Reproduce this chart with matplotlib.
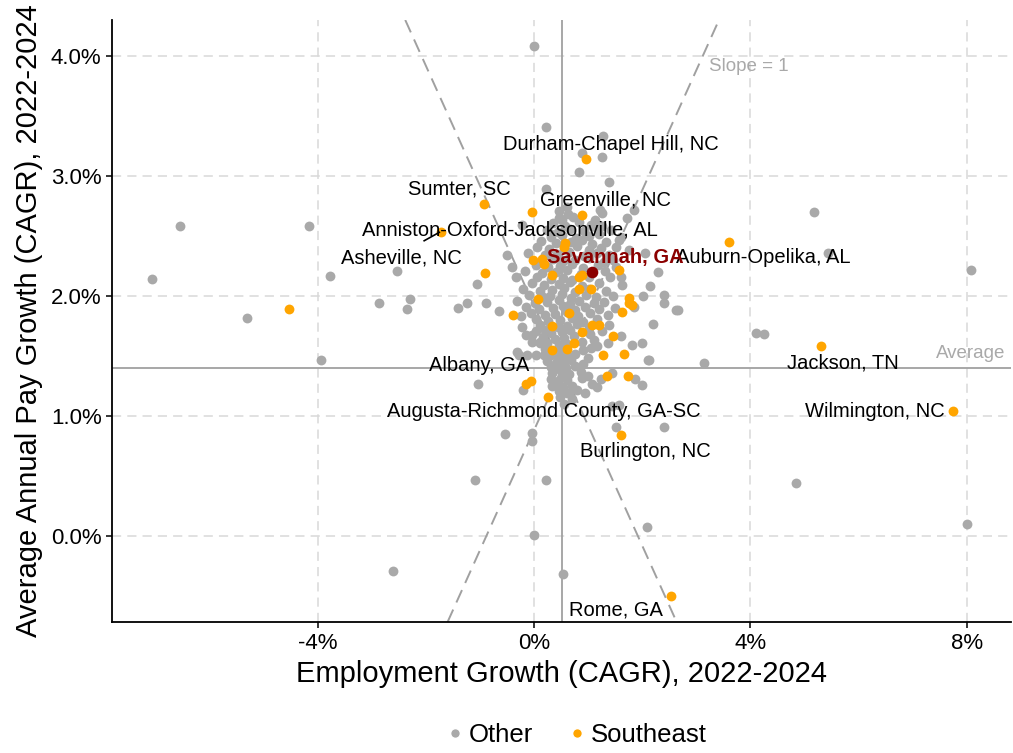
import matplotlib.pyplot as plt
from matplotlib.lines import Line2D

plt.rcParams["font.family"] = ["Liberation Sans", "DejaVu Sans"]

# employment growth (x, %) and pay growth (y, %) -- non-Southeast metros
other_x = [
    -6.54, -4.16, -7.07, -3.77, -2.53, -2.86, -5.31, -3.94, -2.60, -2.30, -2.35, -1.40, -1.24, -1.045,
    -1.03, 0.00, 0.23, 1.27, 0.88, 1.25, 0.835, 1.38, 0.23, 1.84, 0.46, -0.23, 1.57, 1.75, -0.49, -0.40,
    2.15, 2.01, 2.40, 2.62, 2.40, -0.645, -0.89, 5.17, 5.43, 8.08, 2.67, 4.10, 4.245, 3.15, 4.835, 8.01,
    -0.20, 0.33, -0.535, -0.04, -0.04, 1.52, 2.41, 1.44, 1.57, -1.09, 0.23, 0.00, 2.08, 0.53,
    1.87, 2.00, 2.12, 1.44, 1.23, 1.075, 1.17, 0.95, 0.80, 0.645, 2.20, -0.22, -0.31, -0.12, 0.03,
    0.12, 0.20, -0.03, -0.245, -0.15, -0.03, 0.12, 0.18, -0.28, 1.41, 1.60, 1.62, 2.30, 1.84, 1.60,
    1.81, 2.00, 2.11, 0.61, 0.52, 0.31, 1.72, 1.60, 2.06, 1.26, 1.26, 1.075, -0.34,
    0.46, 0.63, 1.22,
    0.50, 0.72, 1.12,
    0.36, 0.57, 0.83, 1.05,
    0.24, 0.44, 0.66, 0.93, 1.17, 1.42,
    0.31, 0.52, 0.77, 1.02, 1.21,
    0.13, 0.41, 0.68, 0.88, 1.08, 1.33,
    0.06, 0.28, 0.56, 0.79, 1.01, 1.24, 1.52,
    -0.11, 0.21, 0.43, 0.64, 0.92, 1.16, 1.38,
    0.36, 0.54, 0.76, 1.02, 1.29, 1.46,
    0.04, 0.26, 0.49, 0.71, 0.91, 1.19, 1.51,
    -0.16, 0.14, 0.41, 0.61, 0.86, 1.31,
    0.06, 0.31, 0.54, 0.71, 1.01,
    -0.04, 0.19, 0.46, 0.66, 0.89, 1.21,
    -0.21, 0.11, 0.34, 0.56, 0.76, 1.01, 1.34,
    -0.09, 0.16, 0.29, 0.51, 0.69, 0.96, 1.14, 1.46,
    -0.31, 0.01, 0.24, 0.46, 0.66, 0.84, 1.11, 1.29,
    -0.14, 0.09, 0.36, 0.54, 0.76, 0.94, 1.21, 1.49,
    -0.06, 0.21, 0.39, 0.61, 0.81, 1.04, 1.36,
    0.04, 0.26, 0.49, 0.71, 0.91, 1.16,
    0.11, 0.44, 0.61, 0.79, 1.01, 1.39,
    0.04, 0.31, 0.51, 0.66, 1.04, 1.26,
    0.16, 0.39, 0.56, 0.74, 1.11,
    0.24, 0.46, 0.61, 0.89, 1.16, 1.36,
    0.21, 0.49, 0.91, 1.06,
    0.31, 0.44, 0.61, 0.76, 0.99,
    0.24, 0.41, 0.56, 0.69, 0.91,
    0.31, 0.46, 0.59, 0.76,
    0.34, 0.51, 0.64, 0.86, 0.99,
    0.31, 0.44, 0.61, 0.89,
    0.41, 0.54, 0.71,
    0.46, 0.61,
    0.49, 0.71,
    0.56,
]
other_y = [
    2.58, 2.58, 2.14, 2.17, 2.21, 1.94, 1.82, 1.47, -0.29, 1.975, 1.89, 1.90, 1.94, 2.10,
    1.27, 4.08, 3.41, 3.33, 3.19, 3.16, 3.03, 2.95, 2.89, 2.72, 2.65, 2.59, 2.47, 2.38, 2.34, 2.24,
    2.08, 2.00, 2.01, 1.88, 1.94, 1.875, 1.94, 2.70, 2.36, 2.22, 1.88, 1.69, 1.68, 1.44, 0.44, 0.10,
    1.22, 1.25, 0.85, 0.86, 0.79, 0.905, 0.905, 1.08, 1.09, 0.47, 0.47, 0.005, 0.075, -0.32,
    1.31, 1.26, 1.47, 1.36, 1.31, 1.27, 1.24, 1.19, 1.22, 1.19, 1.77, 1.74, 1.53, 1.51, 1.51,
    1.61, 1.72, 1.675, 1.83, 1.675, 1.62, 1.62, 1.51, 1.51, 2.16, 2.155, 2.09, 2.20, 1.91, 1.67,
    1.59, 1.61, 1.47, 2.74, 2.63, 2.52, 2.65, 2.49, 2.36, 2.69, 2.58, 2.58, 2.16,
    2.71, 2.68, 2.72,
    2.64, 2.66, 2.63,
    2.61, 2.58, 2.62, 2.59,
    2.55, 2.53, 2.56, 2.54, 2.57, 2.55,
    2.49, 2.51, 2.48, 2.50, 2.52,
    2.46, 2.44, 2.45, 2.47, 2.43, 2.45,
    2.41, 2.39, 2.40, 2.42, 2.38, 2.40, 2.41,
    2.36, 2.34, 2.35, 2.37, 2.33, 2.36, 2.34,
    2.31, 2.29, 2.30, 2.32, 2.28, 2.30,
    2.26, 2.24, 2.25, 2.27, 2.23, 2.26, 2.24,
    2.21, 2.19, 2.20, 2.22, 2.18, 2.21,
    2.16, 2.14, 2.15, 2.13, 2.16,
    2.11, 2.09, 2.10, 2.12, 2.08, 2.11,
    2.06, 2.04, 2.05, 2.07, 2.03, 2.06, 2.04,
    2.01, 1.99, 2.00, 2.02, 1.98, 2.01, 1.99, 2.00,
    1.96, 1.94, 1.95, 1.97, 1.93, 1.96, 1.94, 1.95,
    1.91, 1.89, 1.90, 1.92, 1.88, 1.91, 1.89, 1.90,
    1.86, 1.84, 1.85, 1.87, 1.83, 1.86, 1.84,
    1.81, 1.79, 1.80, 1.82, 1.78, 1.81,
    1.76, 1.74, 1.75, 1.77, 1.73, 1.76,
    1.71, 1.69, 1.70, 1.72, 1.68, 1.71,
    1.66, 1.64, 1.65, 1.67, 1.63,
    1.61, 1.59, 1.60, 1.62, 1.58, 1.61,
    1.56, 1.54, 1.55, 1.57,
    1.51, 1.49, 1.50, 1.52, 1.48,
    1.46, 1.44, 1.45, 1.47, 1.43,
    1.41, 1.39, 1.40, 1.42,
    1.36, 1.34, 1.35, 1.37, 1.33,
    1.31, 1.29, 1.30, 1.32,
    1.26, 1.24, 1.25,
    1.21, 1.19,
    1.16, 1.14,
    1.10,
]

# Southeast metros
se_x = [
    -4.53, -0.92, -1.71, -0.90, -0.03, 0.88, 0.96, -0.02, 0.15, 0.19, 0.33, 1.58, 0.83, 0.89, 0.83,
    1.06, 1.82, 1.63, 0.07, 0.645, -0.38, 3.61, 5.31, 7.75, -0.15, -0.06, 0.26, 1.60, 2.53, 1.35,
    1.74, 1.66, 1.27, 1.46, 1.075, 1.20, 0.89, 1.76, 0.34, 0.34, 0.61, 0.74, 1.76, 0.58, 0.55,
]
se_y = [
    1.89, 2.77, 2.53, 2.19, 2.70, 2.675, 3.14, 2.30, 2.31, 2.27, 2.175, 2.22, 2.16, 2.175, 2.06,
    2.055, 1.925, 1.87, 1.975, 1.86, 1.84, 2.45, 1.585, 1.045, 1.27, 1.295, 1.16, 0.84, -0.50, 1.33,
    1.33, 1.52, 1.51, 1.67, 1.76, 1.76, 1.70, 1.945, 1.75, 1.55, 1.56, 1.61, 1.98, 2.44, 2.41,
]

savannah = (1.08, 2.20)
avg_x, avg_y = 0.52, 1.40

label_text = [
    "Durham-Chapel Hill, NC", "Sumter, SC", "Greenville, NC", "Anniston-Oxford-Jacksonville, AL",
    "Asheville, NC", "Auburn-Opelika, AL", "Jackson, TN", "Wilmington, NC", "Albany, GA",
    "Augusta-Richmond County, GA-SC", "Burlington, NC", "Rome, GA",
]
label_x = [1.42, -1.38, 1.33, -0.44, -2.45, 4.24, 5.71, 6.30, -1.01, 0.18, 2.05, 1.51]
label_y = [3.26, 2.89, 2.80, 2.55, 2.32, 2.32, 1.44, 1.04, 1.42, 1.04, 0.70, -0.62]

GRAY = "#A9A9A9"
ORANGE = "#FFA500"
DARKRED = "#8B0000"

fig = plt.figure(figsize=(10.13, 7.53), dpi=100)
ax = fig.add_axes([0.1106, 0.174, 0.887, 0.7995])

ax.set_xlim(-7.8, 8.81)
ax.set_ylim(-0.717, 4.3)

ax.set_xticks([-4, 0, 4, 8])
ax.set_xticklabels(["-4%", "0%", "4%", "8%"])
ax.set_yticks([0, 1, 2, 3, 4])
ax.set_yticklabels(["0.0%", "1.0%", "2.0%", "3.0%", "4.0%"])
ax.grid(True, color="#D9D9D9", linestyle=(0, (6, 4)), linewidth=1.1)
ax.set_axisbelow(True)

for side in ["top", "right"]:
    ax.spines[side].set_visible(False)
for side in ["left", "bottom"]:
    ax.spines[side].set_linewidth(1.3)
    ax.spines[side].set_color("black")
ax.tick_params(axis="both", labelsize=16, length=4, width=1.1, colors="black")
ax.tick_params(axis="x", pad=4)

# reference lines
ax.axvline(avg_x, color="#A0A0A0", linewidth=1.3, zorder=1)
ax.axhline(avg_y, color="#A0A0A0", linewidth=1.3, zorder=1)
ax.axline((avg_x, avg_y), slope=1, color="#A0A0A0", linewidth=1.4, linestyle=(0, (7, 4)), zorder=1)
ax.axline((avg_x, avg_y), slope=-1, color="#A0A0A0", linewidth=1.4, linestyle=(0, (7, 4)), zorder=1)
ax.text(3.97, 3.91, "Slope = 1", color="#A9A9A9", fontsize=13.5, ha="center", va="center")
ax.text(8.07, 1.52, "Average", color="#A9A9A9", fontsize=13.5, ha="center", va="center")

ax.scatter(other_x, other_y, s=50, color=GRAY, linewidths=0, zorder=3)
ax.scatter(se_x, se_y, s=50, color=ORANGE, linewidths=0, zorder=4)
ax.scatter([savannah[0]], [savannah[1]], s=70, color=DARKRED, linewidths=0, zorder=5)

for t, lx, ly in zip(label_text, label_x, label_y):
    ax.text(lx, ly, t, fontsize=14.5, color="black", ha="center", va="center", zorder=6)
ax.text(1.51, 2.32, "Savannah, GA", fontsize=14.5, color=DARKRED, fontweight="bold",
        ha="center", va="center", zorder=6)
ax.plot([-2.03, -1.75], [2.46, 2.53], color="black", linewidth=1.2, zorder=6)

ax.set_xlabel("Employment Growth (CAGR), 2022-2024", fontsize=21, labelpad=4)
ax.set_ylabel("Average Annual Pay Growth (CAGR), 2022-2024", fontsize=21, labelpad=6)

handles = [
    Line2D([0], [0], marker="o", color="w", markerfacecolor=GRAY, markersize=7, label="Other"),
    Line2D([0], [0], marker="o", color="w", markerfacecolor=ORANGE, markersize=7, label="Southeast"),
]
fig.legend(handles=handles, loc="center", bbox_to_anchor=(0.567, 0.024), ncol=2, frameon=False,
           fontsize=18.5, handletextpad=0.05, columnspacing=1.2, handlelength=1.0)

fig.savefig("out.png", dpi=100)
